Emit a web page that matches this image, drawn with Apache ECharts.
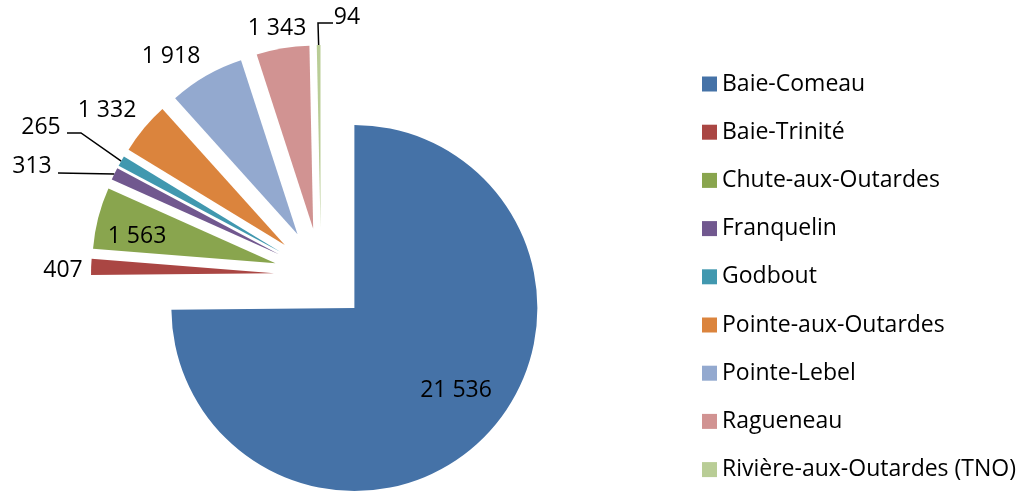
<!DOCTYPE html>
<html lang="fr">
<head>
<meta charset="utf-8">
<title>Population par municipalité</title>
<script src="https://cdn.jsdelivr.net/npm/echarts@6/dist/echarts.min.js"></script>
<style>
  html, body { margin: 0; padding: 0; background: #fff; }
  #chart { width: 1027px; height: 493px; }
</style>
</head>
<body>
<div id="chart"></div>
<script>
// données
var municipalites = ['Baie-Comeau', 'Baie-Trinité', 'Chute-aux-Outardes', 'Franquelin', 'Godbout',
  'Pointe-aux-Outardes', 'Pointe-Lebel', 'Ragueneau', 'Rivière-aux-Outardes (TNO)'];
var population = [21536, 407, 1563, 313, 265, 1332, 1918, 1343, 94];
var couleurs = ['#4572A7', '#AA4643', '#89A54E', '#71588F', '#4198AF', '#DB843D', '#93A9CF', '#D19392', '#B9CD96'];

var police = 'Open Sans';
var centre = [321, 275];
var rayon = 183;
var eclatement = 47;

// placement des étiquettes (centre du texte), comme dans le graphique Excel
var placeEtiquette = [
  [456, 390], [63, 270], [137, 236], [32, 166], [41, 127],
  [107, 110], [171, 56], [277, 28], [347, 17]
];
// traits de rappel (seulement 313, 265 et 94) : coude éventuel puis fin
var coudes = { 3: null, 4: [81, 133], 8: [318, 23] };
var finsTrait = { 3: [58, 173], 4: [67, 133], 8: [333, 23] };

function fmt(v) {
  return String(v).replace(/\B(?=(\d{3})+(?!\d))/g, ' ');
}

var chart = echarts.init(document.getElementById('chart'));

var parts = municipalites.map(function (nom, i) {
  return {
    name: nom,
    value: population[i],
    selected: true,
    itemStyle: { color: couleurs[i] }
  };
});

// série fantôme, non éclatée, qui ne sert qu'aux étiquettes
var etiquettes = municipalites.map(function (nom, i) {
  return {
    name: nom,
    value: population[i],
    labelLine: { show: finsTrait[i] !== undefined }
  };
});

chart.setOption({
  animation: false,
  legend: {
    orient: 'vertical',
    left: 697,
    top: 65,
    icon: 'rect',
    itemWidth: 15,
    itemHeight: 15,
    itemGap: 20.2,
    selectedMode: false,
    textStyle: { fontFamily: police, fontSize: 23, color: '#000', lineHeight: 28 },
    data: municipalites
  },
  series: [{
    type: 'pie',
    center: centre,
    radius: rayon,
    startAngle: 90,
    clockwise: true,
    selectedMode: 'multiple',
    selectedOffset: eclatement,
    emphasis: { disabled: true },
    label: { show: false },
    labelLine: { show: false },
    data: parts
  }, {
    type: 'pie',
    center: centre,
    radius: rayon,
    startAngle: 90,
    clockwise: true,
    silent: true,
    selectedMode: false,
    avoidLabelOverlap: false,
    emphasis: { disabled: true },
    itemStyle: { color: 'rgba(0,0,0,0)' },
    label: {
      position: 'outside',
      fontFamily: police,
      fontSize: 23,
      color: '#000',
      formatter: function (p) { return fmt(p.value); }
    },
    labelLine: {
      length: 25,
      length2: 14,
      lineStyle: { color: '#000', width: 1.5 }
    },
    labelLayout: function (params) {
      var i = params.dataIndex;
      var pos = placeEtiquette[i];
      var res = { x: pos[0], y: pos[1], align: 'center', verticalAlign: 'middle', hideOverlap: false };
      if (finsTrait[i] && params.labelLinePoints) {
        var p0 = params.labelLinePoints[0];
        var k = (rayon + eclatement) / rayon;
        var depart = [centre[0] + (p0[0] - centre[0]) * k, centre[1] + (p0[1] - centre[1]) * k];
        var fin = finsTrait[i];
        var milieu = coudes[i] || [(depart[0] + fin[0]) / 2, (depart[1] + fin[1]) / 2];
        res.labelLinePoints = [depart, milieu, fin];
      }
      return res;
    },
    data: etiquettes
  }]
});
</script>
</body>
</html>
